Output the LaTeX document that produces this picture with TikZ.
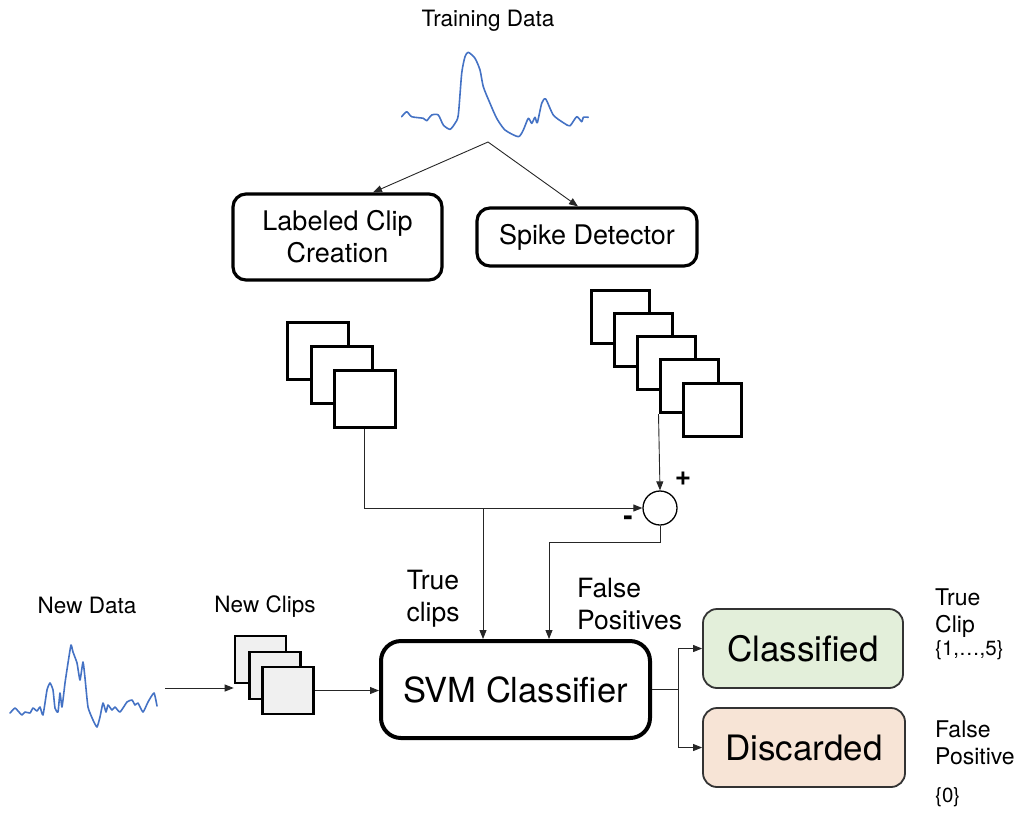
\documentclass[tikz,border=0pt]{standalone}
\usepackage{fontspec}
\setmainfont{TeX Gyre Heros}
\usetikzlibrary{arrows.meta}
\definecolor{wave}{HTML}{4472C4}
\definecolor{clsfill}{HTML}{E3EFDA}
\definecolor{disfill}{HTML}{F7E4D6}
\tikzset{
  conn/.style={draw=black!85, line width=0.9pt, -{Triangle[length=9pt,width=7pt]}},
  plain/.style={draw=black!85, line width=0.9pt},
  procbox/.style={draw, line width=3.2pt, rounded corners=13pt, fill=white, inner sep=0pt, align=center},
  clipsq/.style={draw, line width=3pt, fill=white, inner sep=0pt, minimum width=61pt, minimum height=57pt},
  clipsqr/.style={draw, line width=3pt, fill=white, inner sep=0pt, minimum width=58pt, minimum height=53pt},
  newsq/.style={draw, line width=2.6pt, fill=gray!12, inner sep=0pt, minimum width=51pt, minimum height=47pt},
  outbox/.style={draw=black!80, line width=1.8pt, rounded corners=14pt, inner sep=0pt},
  wavestyle/.style={draw=wave, line width=1.6pt, line join=round, line cap=round},
  lbl/.style={inner sep=0pt, align=center}
}
\begin{document}
\begin{tikzpicture}[x=1pt,y=-1pt]
\useasboundingbox (0,0) rectangle (1024,820);

% Training data
\node[lbl, font=\fontsize{22.5}{26}\selectfont] (tdlabel) at (488,21) {Training Data};
\draw[wavestyle] plot[smooth, tension=0.4] coordinates {
(401.7,116.7) (406.7,111.7) (411.7,116.7) (423.3,118.3) (426.7,120.7) (431.7,115)
(438.3,115) (443.3,125) (450,129.3) (455,123.3) (458.3,115) (461.7,73.3) (465,56.7)
(468.3,52.3) (475,58.3) (480,70) (483.3,86.7) (490,103.3) (496.7,118.3) (505,130)
(518.3,136.7) (523.3,130) (528.3,118.3) (531.7,123.3) (535,117.3) (537.3,122.7)
(541.7,103.3) (545.7,99) (553.3,115) (563.3,122.7) (570,125.7) (576.7,116.7)
(581.7,121.7) (583.3,117.3) (588.3,117.3)};

\coordinate (split) at (488,142);

% Process boxes
\node[procbox, minimum width=209pt, minimum height=86pt, font=\fontsize{27}{32}\selectfont] (lab) at (337.5,237) {Labeled Clip\\Creation};
\node[procbox, minimum width=220pt, minimum height=58pt, font=\fontsize{27}{30}\selectfont] (spk) at (587,237) {Spike Detector};

\draw[conn] (split) -- ([xshift=35.5pt]lab.north);
\draw[conn] (split) -- ([xshift=-9pt]spk.north);

% Left clip stack
\node[clipsq] (l1) at (318,351) {};
\node[clipsq] (l2) at (341.5,374.5) {};
\node[clipsq] (l3) at (364.5,398.5) {};

% Right clip stack
\node[clipsqr] (r1) at (620,316.5) {};
\node[clipsqr] (r2) at (643,340) {};
\node[clipsqr] (r3) at (666,363) {};
\node[clipsqr] (r4) at (689,386) {};
\node[clipsqr] (r5) at (712,409.5) {};

% Summing junction
\node[draw, circle, line width=1.3pt, minimum size=34pt, inner sep=0pt] (sum) at (660,508) {};
\node[lbl, font=\fontsize{28}{28}\selectfont\bfseries] (plus) at (683,479) {+};
\node[lbl, font=\fontsize{28}{28}\selectfont\bfseries] (minus) at (628,521) {-};

\draw[conn] (r4.south west) -- (sum.north);
\draw[conn] (l3.south) |- (sum.west);

% SVM
\node[procbox, line width=4pt, rounded corners=20pt, minimum width=269pt, minimum height=97pt, font=\fontsize{34.5}{38}\selectfont] (svm) at (515.5,689.5) {SVM Classifier};

\coordinate (tj) at (483,508);
\draw[conn] (tj) -- (tj |- svm.north);
\coordinate (fpc) at (549,542);
\draw[plain] (sum.south) |- (fpc);
\draw[conn] (fpc) -- (fpc |- svm.north);

\node[lbl, font=\fontsize{26.5}{32}\selectfont] (tclbl) at (433,599) {True\\clips};
\node[lbl, font=\fontsize{26.5}{32}\selectfont, align=left, anchor=west] (fplbl) at (577,604) {False\\Positives};

% New data
\node[lbl, font=\fontsize{22.5}{26}\selectfont] (ndlabel) at (87,605) {New Data};
\draw[wavestyle] plot[smooth, tension=0.3] coordinates {
(10,713) (15,708) (18,711) (22,715) (25,712) (30,713) (33,708) (37,711) (40,707)
(43,715) (47,690) (50,683) (53,690) (55,708) (58,712) (60,693) (62,707) (65,683)
(68,663) (71,645) (73,652) (77,663) (80,680) (83,662) (85,678) (88,707) (93,720)
(97,727) (100,717) (103,703) (106,712) (108,705) (112,710) (115,707) (120,712)
(127,702) (132,700) (135,705) (138,703) (143,712) (148,702) (154,693) (157,706)};

\node[lbl, font=\fontsize{22.5}{26}\selectfont] (nclabel) at (265,607) {New Clips};
\node[newsq] (n1) at (260.5,659.5) {};
\node[newsq] (n2) at (275,675.5) {};
\node[newsq] (n3) at (288,690.5) {};

\coordinate (ndstart) at (165,688);
\draw[conn] (ndstart) -- (ndstart -| n1.west);
\draw[conn] (n3.east) -- (n3.east -| svm.west);

% Outputs
\node[outbox, fill=clsfill, minimum width=200pt, minimum height=79pt, font=\fontsize{35}{38}\selectfont] (cls) at (803,648.5) {Classified};
\node[outbox, fill=disfill, minimum width=202pt, minimum height=79pt, font=\fontsize{35}{38}\selectfont] (dis) at (804,747.5) {Discarded};

\coordinate (sj) at (678,689.5);
\draw[plain] (svm.east) -- (sj);
\draw[conn] (sj) |- (cls.west);
\draw[conn] (sj) |- (dis.west);

\node[lbl, anchor=west, align=left, font=\fontsize{23}{27}\selectfont] (tcr) at (935,613.5) {True\\Clip};
\node[lbl, anchor=west, font=\fontsize{20.5}{24}\selectfont] (tcset) at (935,650) {\{1,…,5\}};
\node[lbl, anchor=west, align=left, font=\fontsize{23}{27}\selectfont] (fpr) at (935,743) {False\\Positive};
\node[lbl, anchor=west, font=\fontsize{20.5}{24}\selectfont] (fpset) at (935,797) {\{0\}};
\end{tikzpicture}
\end{document}
